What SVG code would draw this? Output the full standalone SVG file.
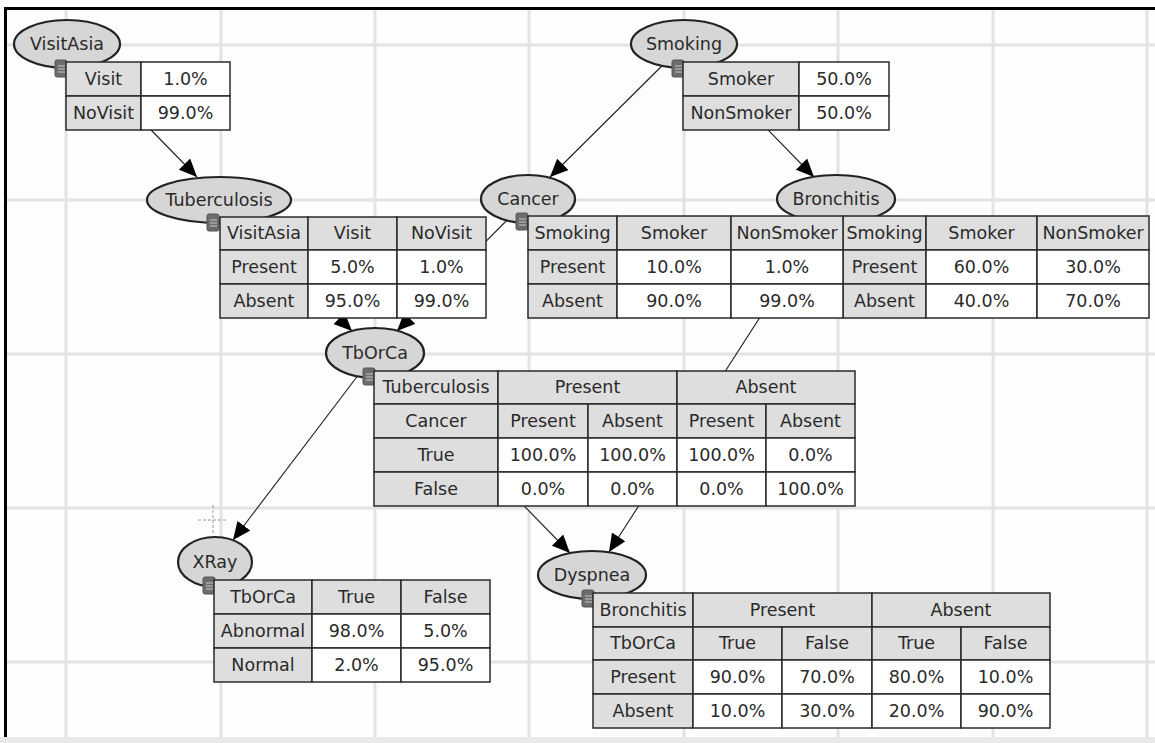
<svg xmlns="http://www.w3.org/2000/svg" width="1155" height="743" viewBox="0 0 1155 743">
<style>
.bg{fill:#fdfdfd}
.grid{stroke:#e3e3e3;stroke-width:3;fill:none}
.frame{stroke:#000;stroke-width:3}
.conn{stroke:#1e1e1e;stroke-width:1.1;fill:none}
.node{fill:#d6d6d6;stroke:#222;stroke-width:2.2}
.h{fill:#dedede;stroke:#2a2a2a;stroke-width:1.5}
.v{fill:#ffffff;stroke:#2a2a2a;stroke-width:1.5}
text{font-family:"DejaVu Sans","Liberation Sans",sans-serif;font-size:17.5px;fill:#2a2a2a;text-anchor:middle}
.cursor{stroke:#9a9a9a;stroke-width:1;stroke-dasharray:3,2;fill:none}
</style>
<defs>
<marker id="arr" markerUnits="userSpaceOnUse" markerWidth="20" markerHeight="16" refX="18" refY="8" orient="auto">
<path d="M0,0 L18,8 L0,16 z" fill="#000"/>
</marker>
<g id="icon">
<rect x="0" y="0" width="12" height="17" rx="2" fill="#6c6c6c" stroke="#555" stroke-width="1"/>
<path d="M3,6 H10 M3,9 H10 M3,12 H10" stroke="#c8c8c8" stroke-width="1"/>
</g>
</defs>
<rect class="bg" x="0" y="0" width="1155" height="743"/>
<rect x="0" y="0" width="1155" height="7" fill="#fff"/>
<rect x="0" y="0" width="4" height="743" fill="#fff"/>
<g id="grid">
<path class="grid" d="M66,9V737 M221,9V737 M375,9V737 M529,9V737 M684,9V737 M838,9V737 M993,9V737 M1147,9V737"/>
<path class="grid" d="M6,45H1155 M6,200H1155 M6,354H1155 M6,508H1155 M6,662H1155"/>
</g>
<rect x="0" y="737" width="1155" height="6" fill="#e9e9e9"/>
<line class="frame" x1="4" y1="8.5" x2="1155" y2="8.5"/>
<line class="frame" x1="5.5" y1="7" x2="5.5" y2="737"/>
<g id="cursor">
<path class="cursor" d="M198,520H228 M213,505V535"/>
</g>
<g id="connectors">
<line class="conn" x1="67" y1="44" x2="197" y2="177" marker-end="url(#arr)"/>
<line class="conn" x1="684" y1="44" x2="550" y2="177" marker-end="url(#arr)"/>
<line class="conn" x1="684" y1="44" x2="814" y2="177" marker-end="url(#arr)"/>
<line class="conn" x1="219" y1="200" x2="352" y2="331" marker-end="url(#arr)"/>
<line class="conn" x1="528" y1="199" x2="397" y2="331" marker-end="url(#arr)"/>
<line class="conn" x1="375" y1="353" x2="233" y2="540" marker-end="url(#arr)"/>
<line class="conn" x1="375" y1="353" x2="570" y2="553" marker-end="url(#arr)"/>
<line class="conn" x1="836" y1="199" x2="609" y2="552" marker-end="url(#arr)"/>
</g>
<g id="node-visitasia">
<ellipse class="node" cx="67" cy="44" rx="53" ry="24"/>
<text x="67" y="50">VisitAsia</text>
<use href="#icon" x="55" y="60"/>
<rect class="h" x="66" y="62" width="75" height="34"/><rect class="v" x="141" y="62" width="89" height="34"/>
<rect class="h" x="66" y="96" width="75" height="34"/><rect class="v" x="141" y="96" width="89" height="34"/>
<text x="103.5" y="85">Visit</text><text x="185.5" y="85">1.0%</text>
<text x="103.5" y="119">NoVisit</text><text x="185.5" y="119">99.0%</text>
</g>
<g id="node-smoking">
<ellipse class="node" cx="684" cy="44" rx="53" ry="24"/>
<text x="684" y="50">Smoking</text>
<use href="#icon" x="672" y="60"/>
<rect class="h" x="683" y="62" width="116" height="34"/><rect class="v" x="799" y="62" width="90" height="34"/>
<rect class="h" x="683" y="96" width="116" height="34"/><rect class="v" x="799" y="96" width="90" height="34"/>
<text x="741" y="85">Smoker</text><text x="844" y="85">50.0%</text>
<text x="741" y="119">NonSmoker</text><text x="844" y="119">50.0%</text>
</g>
<g id="node-tuberculosis">
<ellipse class="node" cx="219" cy="200" rx="72" ry="23"/>
<text x="219" y="206">Tuberculosis</text>
<use href="#icon" x="207" y="214"/>
<rect class="h" x="220" y="217" width="88" height="33"/><rect class="h" x="308" y="217" width="89" height="33"/><rect class="h" x="397" y="217" width="89" height="33"/>
<rect class="h" x="220" y="250" width="88" height="34"/><rect class="v" x="308" y="250" width="89" height="34"/><rect class="v" x="397" y="250" width="89" height="34"/>
<rect class="h" x="220" y="284" width="88" height="34"/><rect class="v" x="308" y="284" width="89" height="34"/><rect class="v" x="397" y="284" width="89" height="34"/>
<text x="264" y="239">VisitAsia</text><text x="352.5" y="239">Visit</text><text x="441.5" y="239">NoVisit</text>
<text x="264" y="273">Present</text><text x="352.5" y="273">5.0%</text><text x="441.5" y="273">1.0%</text>
<text x="264" y="307">Absent</text><text x="352.5" y="307">95.0%</text><text x="441.5" y="307">99.0%</text>
</g>
<g id="node-bronchitis">
<ellipse class="node" cx="836" cy="199" rx="59" ry="24"/>
<text x="836" y="205">Bronchitis</text>
<rect class="h" x="843" y="216" width="83" height="34"/><rect class="h" x="926" y="216" width="111" height="34"/><rect class="h" x="1037" y="216" width="112" height="34"/>
<rect class="h" x="843" y="250" width="83" height="34"/><rect class="v" x="926" y="250" width="111" height="34"/><rect class="v" x="1037" y="250" width="112" height="34"/>
<rect class="h" x="843" y="284" width="83" height="34"/><rect class="v" x="926" y="284" width="111" height="34"/><rect class="v" x="1037" y="284" width="112" height="34"/>
<text x="884.5" y="239">Smoking</text><text x="981.5" y="239">Smoker</text><text x="1093" y="239">NonSmoker</text>
<text x="884.5" y="273">Present</text><text x="981.5" y="273">60.0%</text><text x="1093" y="273">30.0%</text>
<text x="884.5" y="307">Absent</text><text x="981.5" y="307">40.0%</text><text x="1093" y="307">70.0%</text>
</g>
<g id="node-cancer">
<ellipse class="node" cx="528" cy="199" rx="47" ry="24"/>
<text x="528" y="205">Cancer</text>
<use href="#icon" x="516" y="213"/>
<rect class="h" x="528" y="216" width="89" height="34"/><rect class="h" x="617" y="216" width="114" height="34"/><rect class="h" x="731" y="216" width="112" height="34"/>
<rect class="h" x="528" y="250" width="89" height="34"/><rect class="v" x="617" y="250" width="114" height="34"/><rect class="v" x="731" y="250" width="112" height="34"/>
<rect class="h" x="528" y="284" width="89" height="34"/><rect class="v" x="617" y="284" width="114" height="34"/><rect class="v" x="731" y="284" width="112" height="34"/>
<text x="572.5" y="239">Smoking</text><text x="674" y="239">Smoker</text><text x="787" y="239">NonSmoker</text>
<text x="572.5" y="273">Present</text><text x="674" y="273">10.0%</text><text x="787" y="273">1.0%</text>
<text x="572.5" y="307">Absent</text><text x="674" y="307">90.0%</text><text x="787" y="307">99.0%</text>
</g>
<g id="node-tborca">
<ellipse class="node" cx="375" cy="353" rx="49" ry="25"/>
<text x="375" y="359">TbOrCa</text>
<use href="#icon" x="363" y="368"/>
<rect class="h" x="374" y="371" width="124" height="33"/><rect class="h" x="498" y="371" width="179" height="33"/><rect class="h" x="677" y="371" width="178" height="33"/>
<rect class="h" x="374" y="404" width="124" height="34"/><rect class="h" x="498" y="404" width="90" height="34"/><rect class="h" x="588" y="404" width="89" height="34"/><rect class="h" x="677" y="404" width="89" height="34"/><rect class="h" x="766" y="404" width="89" height="34"/>
<rect class="h" x="374" y="438" width="124" height="34"/><rect class="v" x="498" y="438" width="90" height="34"/><rect class="v" x="588" y="438" width="89" height="34"/><rect class="v" x="677" y="438" width="89" height="34"/><rect class="v" x="766" y="438" width="89" height="34"/>
<rect class="h" x="374" y="472" width="124" height="34"/><rect class="v" x="498" y="472" width="90" height="34"/><rect class="v" x="588" y="472" width="89" height="34"/><rect class="v" x="677" y="472" width="89" height="34"/><rect class="v" x="766" y="472" width="89" height="34"/>
<text x="436" y="393">Tuberculosis</text><text x="587.5" y="393">Present</text><text x="766" y="393">Absent</text>
<text x="436" y="427">Cancer</text><text x="543" y="427">Present</text><text x="632.5" y="427">Absent</text><text x="721.5" y="427">Present</text><text x="810.5" y="427">Absent</text>
<text x="436" y="461">True</text><text x="543" y="461">100.0%</text><text x="632.5" y="461">100.0%</text><text x="721.5" y="461">100.0%</text><text x="810.5" y="461">0.0%</text>
<text x="436" y="495">False</text><text x="543" y="495">0.0%</text><text x="632.5" y="495">0.0%</text><text x="721.5" y="495">0.0%</text><text x="810.5" y="495">100.0%</text>
</g>
<g id="node-xray">
<ellipse class="node" cx="215" cy="562" rx="37" ry="25"/>
<text x="215" y="568">XRay</text>
<use href="#icon" x="203" y="577"/>
<rect class="h" x="214" y="580" width="98" height="34"/><rect class="h" x="312" y="580" width="89" height="34"/><rect class="h" x="401" y="580" width="89" height="34"/>
<rect class="h" x="214" y="614" width="98" height="34"/><rect class="v" x="312" y="614" width="89" height="34"/><rect class="v" x="401" y="614" width="89" height="34"/>
<rect class="h" x="214" y="648" width="98" height="34"/><rect class="v" x="312" y="648" width="89" height="34"/><rect class="v" x="401" y="648" width="89" height="34"/>
<text x="263" y="603">TbOrCa</text><text x="356.5" y="603">True</text><text x="445.5" y="603">False</text>
<text x="263" y="637">Abnormal</text><text x="356.5" y="637">98.0%</text><text x="445.5" y="637">5.0%</text>
<text x="263" y="671">Normal</text><text x="356.5" y="671">2.0%</text><text x="445.5" y="671">95.0%</text>
</g>
<g id="node-dyspnea">
<ellipse class="node" cx="592" cy="575" rx="54" ry="24"/>
<text x="592" y="581">Dyspnea</text>
<use href="#icon" x="582" y="590"/>
<rect class="h" x="593" y="593" width="100" height="34"/><rect class="h" x="693" y="593" width="179" height="34"/><rect class="h" x="872" y="593" width="178" height="34"/>
<rect class="h" x="593" y="627" width="100" height="33"/><rect class="h" x="693" y="627" width="89" height="33"/><rect class="h" x="782" y="627" width="90" height="33"/><rect class="h" x="872" y="627" width="89" height="33"/><rect class="h" x="961" y="627" width="89" height="33"/>
<rect class="h" x="593" y="660" width="100" height="34"/><rect class="v" x="693" y="660" width="89" height="34"/><rect class="v" x="782" y="660" width="90" height="34"/><rect class="v" x="872" y="660" width="89" height="34"/><rect class="v" x="961" y="660" width="89" height="34"/>
<rect class="h" x="593" y="694" width="100" height="34"/><rect class="v" x="693" y="694" width="89" height="34"/><rect class="v" x="782" y="694" width="90" height="34"/><rect class="v" x="872" y="694" width="89" height="34"/><rect class="v" x="961" y="694" width="89" height="34"/>
<text x="643" y="616">Bronchitis</text><text x="782.5" y="616">Present</text><text x="961" y="616">Absent</text>
<text x="643" y="649">TbOrCa</text><text x="737.5" y="649">True</text><text x="827" y="649">False</text><text x="916.5" y="649">True</text><text x="1005.5" y="649">False</text>
<text x="643" y="683">Present</text><text x="737.5" y="683">90.0%</text><text x="827" y="683">70.0%</text><text x="916.5" y="683">80.0%</text><text x="1005.5" y="683">10.0%</text>
<text x="643" y="717">Absent</text><text x="737.5" y="717">10.0%</text><text x="827" y="717">30.0%</text><text x="916.5" y="717">20.0%</text><text x="1005.5" y="717">90.0%</text>
</g>
</svg>
